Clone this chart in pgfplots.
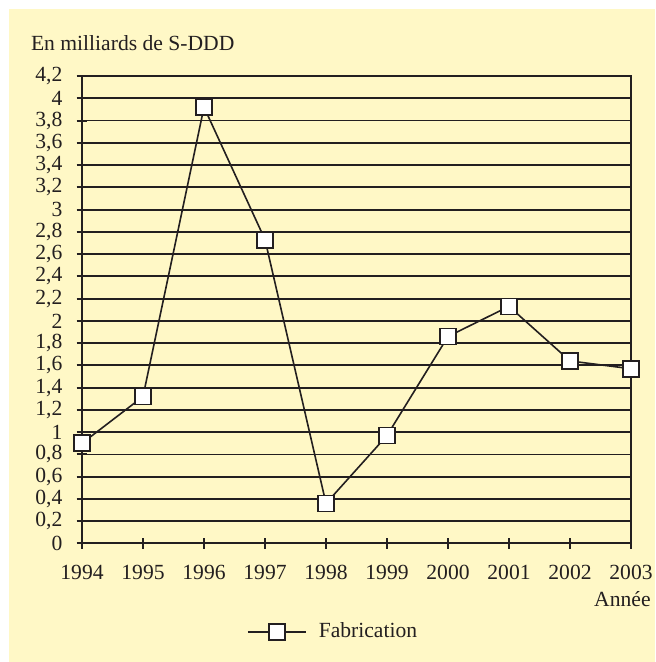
\documentclass[border=0pt]{standalone}
\usepackage{fontspec}
\setmainfont{Liberation Serif}
\usepackage{pgfplots}
\pgfplotsset{compat=1.18}
\definecolor{bgy}{RGB}{255,248,198}
\definecolor{ink}{RGB}{35,31,32}
\begin{document}
\begin{tikzpicture}[x=1pt,y=1pt]
\path[use as bounding box] (0,0) rectangle (327.5,331);
\fill[white] (0,0) rectangle (327.5,331);
\fill[bgy] (4.5,0) rectangle (327.5,326.5);
\node[anchor=base west,font=\fontsize{10.8}{13}\selectfont,text=ink,inner sep=0] at (15.3,305.6) {En milliards de S-DDD};
\node[anchor=base east,font=\fontsize{10.8}{13}\selectfont,text=ink,inner sep=0] at (325.5,27.5) {Année};
\begin{axis}[
  at={(41pt,59.25pt)}, anchor=south west,
  scale only axis, width=274.5pt, height=233.75pt,
  xmin=1994, xmax=2003, ymin=0, ymax=4.2,
  xtick={1994,1995,1996,1997,1998,1999,2000,2001,2002,2003},
  ytick={0,0.2,0.4,0.6,0.8,1,1.2,1.4,1.6,1.8,2,2.2,2.4,2.6,2.8,3,3.2,3.4,3.6,3.8,4,4.2},
  xtick pos=bottom, ytick pos=left,
  tick align=center, major tick length=5.5pt,
  axis line style={ink, line width=1pt},
  every tick/.style={ink, line width=1pt},
  ymajorgrids, grid style={ink, line width=0.95pt},
  /pgf/number format/assume math mode=true,
  /pgf/number format/use comma,
  /pgf/number format/1000 sep={},
  xticklabel style={font=\fontsize{10.8}{13}\selectfont, text=ink, yshift=-4.5pt},
  yticklabel style={font=\fontsize{10.8}{13}\selectfont, text=ink, xshift=-3.5pt},
  legend style={at={(0.30,-0.189)}, anchor=west, draw=none, fill=none,
    inner sep=0pt, font=\fontsize{10.8}{13}\selectfont, text=ink,
    /tikz/every odd column/.append style={column sep=4pt}},
  legend image code/.code={%
    \draw[mark repeat=2,mark phase=2] plot coordinates {(0cm,0cm) (0.51cm,0cm) (1.02cm,0cm)};},
]
\addplot[ink, line width=0.8pt, mark=square*, mark size=4pt,
  mark options={fill=white, draw=ink, line width=0.9pt}]
  coordinates {(1994,0.90) (1995,1.32) (1996,3.92) (1997,2.73) (1998,0.36)
    (1999,0.97) (2000,1.86) (2001,2.13) (2002,1.64) (2003,1.57)};
\addlegendentry{Fabrication}
\end{axis}
\end{tikzpicture}
\end{document}
